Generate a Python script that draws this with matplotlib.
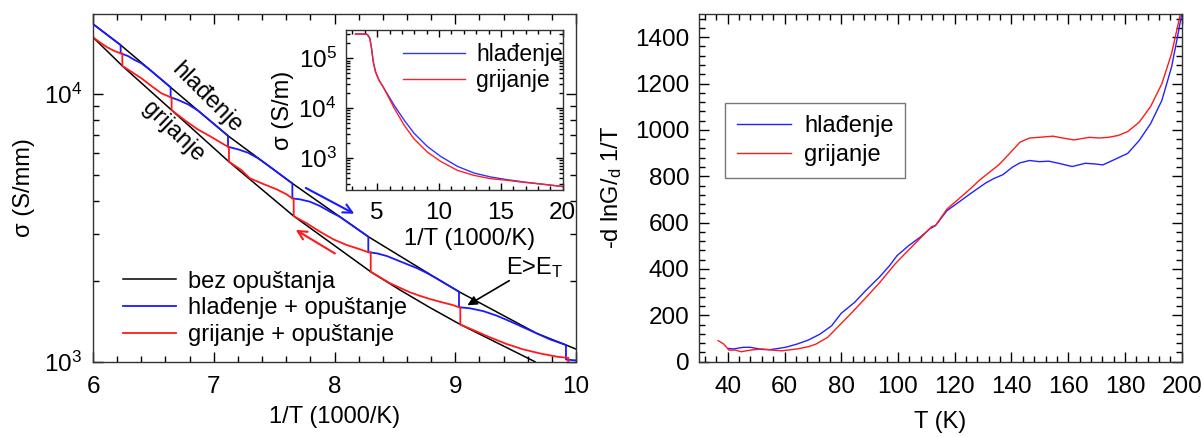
import numpy as np
import matplotlib
matplotlib.use('Agg')
import matplotlib.pyplot as plt
from matplotlib.ticker import MultipleLocator, LogLocator, NullFormatter

plt.rcParams['font.family'] = ['Liberation Sans', 'DejaVu Sans']
plt.rcParams['mathtext.fontset'] = 'custom'
plt.rcParams['mathtext.rm'] = 'Liberation Sans'
plt.rcParams['mathtext.it'] = 'Liberation Sans:italic'
plt.rcParams['mathtext.bf'] = 'Liberation Sans:bold'

# ---------------- left panel data (1/T in 1000/K, log10 sigma in S/mm) -------------
upper_x = [6.0, 6.229, 6.470, 6.643, 6.870, 7.118, 7.449, 7.651, 8.046, 8.280, 8.846,
           9.031, 9.674, 9.917, 10.0]
upper_log = [4.2615, 4.183, 4.091, 4.025, 3.938, 3.844, 3.7335, 3.666, 3.541, 3.467, 3.311,
             3.2615, 3.106, 3.0624, 3.047]

lower_x = [6.0, 6.243, 6.651, 7.126, 7.300, 7.662, 8.300, 8.542, 8.791, 9.042, 9.66]
lower_log = [4.212, 4.105, 3.940, 3.747, 3.681, 3.544, 3.336, 3.268, 3.202, 3.139, 3.0]

cool_relax_x = [6.0, 6.229, 6.229, 6.290, 6.345, 6.401, 6.470, 6.643, 6.643, 6.704, 6.787,
                6.870, 7.118, 7.118, 7.201, 7.284, 7.367, 7.449, 7.651, 7.651, 7.714, 7.797,
                7.880, 7.963, 8.046, 8.280, 8.280, 8.349, 8.432, 8.515, 8.597, 8.680, 8.763,
                8.846, 9.031, 9.031, 9.122, 9.232, 9.343, 9.453, 9.563, 9.674, 9.784, 9.917,
                9.917, 10.0]
cool_relax_log = [4.2615, 4.183, 4.152, 4.142, 4.127, 4.115, 4.091, 4.025, 3.988, 3.978, 3.9615,
                  3.938, 3.844, 3.803, 3.7934, 3.7807, 3.760, 3.7335, 3.666, 3.610, 3.6066, 3.5977,
                  3.5816, 3.5603, 3.541, 3.467, 3.409, 3.405, 3.395, 3.380, 3.365, 3.350, 3.332,
                  3.311, 3.2615, 3.2035, 3.1995, 3.189, 3.172, 3.151, 3.1285, 3.106, 3.0835, 3.0624,
                  3.008, 3.005]

heat_relax_x = [6.0, 6.069, 6.124, 6.179, 6.229, 6.243, 6.243, 6.318, 6.401, 6.484, 6.567,
                6.643, 6.651, 6.651, 6.757, 6.867, 6.977, 7.060, 7.118, 7.126, 7.126, 7.229,
                7.300, 7.410, 7.521, 7.604, 7.651, 7.662, 7.662, 7.770, 7.880, 7.991, 8.101,
                8.211, 8.280, 8.300, 8.300, 8.460, 8.542, 8.626, 8.708, 8.791, 8.873, 8.984,
                9.031, 9.042, 9.042, 9.150, 9.288, 9.426, 9.563, 9.701, 9.839, 9.917, 9.936,
                9.936, 10.0]
heat_relax_log = [4.212, 4.189, 4.173, 4.1606, 4.152, 4.152, 4.105, 4.0833, 4.0587, 4.030, 4.0026,
                  3.988, 3.988, 3.940, 3.903, 3.868, 3.8405, 3.818, 3.803, 3.803, 3.747, 3.716,
                  3.685, 3.664, 3.644, 3.625, 3.610, 3.610, 3.544, 3.517, 3.4856, 3.457, 3.436,
                  3.420, 3.409, 3.409, 3.336, 3.293, 3.276, 3.259, 3.246, 3.234, 3.224, 3.211,
                  3.2035, 3.2035, 3.139, 3.118, 3.091, 3.066, 3.046, 3.031, 3.019, 3.015, 3.015,
                  2.99, 2.99]

legend_main = ['bez opuštanja', 'hlađenje + opuštanje', 'grijanje + opuštanje']

# ---------------- inset data (1/T, log10 sigma in S/m) ----------------
inset_x = [3.24, 4.13, 4.25, 4.40, 4.54, 4.68, 4.86, 5.13, 5.54, 6.35, 7.16, 7.97, 9.05,
           10.13, 11.49, 12.83, 14.19, 15.54, 16.89, 18.24, 20.0]
inset_cool_log = [5.486, 5.486, 5.46, 5.40, 5.20, 4.93, 4.73, 4.566, 4.40, 4.066, 3.766, 3.50,
                  3.233, 3.033, 2.833, 2.70, 2.62, 2.566, 2.52, 2.48, 2.43]
inset_heat_log = [5.486, 5.486, 5.46, 5.40, 5.20, 4.93, 4.73, 4.566, 4.40, 4.01, 3.666, 3.386,
                  3.12, 2.933, 2.753, 2.653, 2.586, 2.553, 2.513, 2.48, 2.43]

# ---------------- right panel data (T in K, -dlnG/d(1/T)) ----------------
cool_T = [40.3, 42, 45.4, 48, 52, 55, 60.3, 64.4, 68.5, 72.5, 76.6, 80, 84.7, 88.8, 93.6, 97,
          99.7, 103.7, 107.8, 111.2, 113.2, 117.3, 121.4, 125.4, 130.8, 133.6, 137, 140.3, 143,
          146.4, 149.8, 153.2, 156.6, 161.4, 166, 169.5, 172.2, 175.6, 181, 185, 189, 193,
          196.4, 198.5, 200]
cool_E = [57, 55, 62, 62, 53, 52, 62, 76, 94, 119, 155, 209, 256, 309, 367, 414, 458, 500,
          537, 573, 587, 652, 688, 724, 770, 789, 807, 839, 858, 868, 863, 865, 856, 842, 856,
          853, 849, 868, 899, 954, 1026, 1127, 1270, 1400, 1500]
heat_T = [36.6, 38.6, 40.4, 42.7, 44.7, 48, 52, 55.6, 59, 64.4, 68.5, 71.1, 75.2, 79.2, 83.3,
          88.8, 93.6, 99, 102.4, 107.8, 111.9, 113.2, 117.3, 121.4, 125.4, 128.8, 132.2, 135.6,
          139, 143, 146.4, 149.8, 154.6, 158, 162, 167.5, 170.9, 174.2, 177.6, 181, 185, 189,
          193, 196.4, 198.5, 199.5]
heat_E = [91, 76, 50, 50, 43, 50, 55, 50, 47, 55, 65, 76, 105, 155, 206, 278, 342, 422, 465,
          532, 583, 587, 659, 702, 745, 784, 817, 850, 894, 947, 965, 968, 973, 965, 957, 968,
          965, 968, 976, 993, 1033, 1100, 1199, 1328, 1443, 1500]
legend_right = ['hlađenje', 'grijanje']

FS = 17          # labels / legends
FT = 17.5        # tick labels
FSI = 16.5       # inset legend
W, H = 1204, 437

fig = plt.figure(figsize=(W / 100, H / 100), dpi=100)


def frac(x0, y0, x1, y1):
    return [x0 / W, 1 - y1 / H, (x1 - x0) / W, (y1 - y0) / H]


def style(ax, fs):
    ax.tick_params(which='both', direction='in', top=True, right=True, labelsize=fs,
                   width=1.0, colors='black')
    ax.tick_params(which='major', length=7)
    ax.tick_params(which='minor', length=4)
    for s in ax.spines.values():
        s.set_linewidth(1.0)
        s.set_color('#333333')


# ---------------- left panel ----------------
ax1 = fig.add_axes(frac(93, 14, 576, 361.7))
p = lambda v: np.power(10.0, np.asarray(v))
ax1.plot(upper_x, p(upper_log), color='black', lw=1.1, label=legend_main[0])
ax1.plot(lower_x, p(lower_log), color='black', lw=1.1)
ax1.plot(cool_relax_x, p(cool_relax_log), color='#1a1aff', lw=1.3, label=legend_main[1])
ax1.plot(heat_relax_x, p(heat_relax_log), color='#ff1a1a', lw=1.3, label=legend_main[2])
ax1.set_yscale('log')
ax1.set_xlim(6, 10)
ax1.set_ylim(1e3, 10 ** 4.299)
ax1.xaxis.set_major_locator(MultipleLocator(1))
ax1.xaxis.set_minor_locator(MultipleLocator(0.2))
ax1.yaxis.set_major_locator(LogLocator(base=10))
ax1.yaxis.set_minor_locator(LogLocator(base=10, subs=np.arange(2, 10)))
ax1.yaxis.set_minor_formatter(NullFormatter())
style(ax1, FT)
ax1.tick_params(axis='x', pad=10)
ax1.tick_params(axis='y', pad=8)
ax1.set_xlabel('1/T (1000/K)', fontsize=FS, labelpad=6)
ax1.set_ylabel('σ (S/mm)', fontsize=FS, labelpad=6)

ax1.text(6.944, 10 ** 3.985, 'hlađenje', rotation=-45, fontsize=FS, ha='center',
         va='center', rotation_mode='anchor')
ax1.text(6.663, 10 ** 3.859, 'grijanje', rotation=-44, fontsize=FS, ha='center',
         va='center', rotation_mode='anchor')

ax1.annotate('', xy=(8.184, 10 ** 3.548), xytext=(7.742, 10 ** 3.654),
             arrowprops=dict(arrowstyle='->', color='#1a1aff', lw=1.5, mutation_scale=16))
ax1.annotate('', xy=(7.659, 10 ** 3.498), xytext=(8.023, 10 ** 3.399),
             arrowprops=dict(arrowstyle='->', color='#ff1a1a', lw=1.5, mutation_scale=16))
ax1.annotate('', xy=(9.081, 10 ** 3.2055), xytext=(9.467, 10 ** 3.308),
             arrowprops=dict(arrowstyle='-|>', color='black', lw=1.2, mutation_scale=14))
ax1.text(9.66, 10 ** 3.35, 'E>E$_\\mathregular{T}$', fontsize=FS, ha='center', va='center')

leg1 = ax1.legend(loc='upper left', bbox_to_anchor=(0.062, 0.262), frameon=False,
                  fontsize=FS, handlelength=2.25, handletextpad=0.5, labelspacing=0.2,
                  borderpad=0, borderaxespad=0)

# ---------------- inset ----------------
axi = fig.add_axes(frac(346.3, 30, 562.7, 190))
axi.set_facecolor('white')
axi.plot(inset_x, p(inset_cool_log), color='#3333ff', lw=1.0, label=legend_right[0])
axi.plot(inset_x, p(inset_heat_log), color='#ff2222', lw=1.0, label=legend_right[1])
axi.set_yscale('log')
axi.set_xlim(2.5, 20)
axi.set_ylim(10 ** 2.36, 10 ** 5.566)
axi.xaxis.set_major_locator(MultipleLocator(5))
axi.xaxis.set_minor_locator(MultipleLocator(1))
axi.yaxis.set_major_locator(LogLocator(base=10))
axi.yaxis.set_minor_locator(LogLocator(base=10, subs=np.arange(2, 10)))
axi.yaxis.set_minor_formatter(NullFormatter())
style(axi, FT)
axi.tick_params(which='major', length=5)
axi.tick_params(which='minor', length=3)
axi.tick_params(axis='x', pad=9)
axi.tick_params(axis='y', pad=7)
axi.set_xlabel('1/T (1000/K)', fontsize=FS)
axi.xaxis.set_label_coords(0.57, -0.235)
axi.set_ylabel('σ (S/m)', fontsize=FS, labelpad=3)
axi.legend(loc='upper left', bbox_to_anchor=(0.262, 0.92), frameon=False, fontsize=FSI,
           handlelength=2.7, handletextpad=0.5, labelspacing=0.15, borderpad=0,
           borderaxespad=0)

# ---------------- right panel ----------------
ax2 = fig.add_axes(frac(699.4, 14, 1181.7, 361.7))
ax2.plot(cool_T, cool_E, color='#2222ff', lw=1.0, label=legend_right[0])
ax2.plot(heat_T, heat_E, color='#ff1a1a', lw=1.0, label=legend_right[1])
ax2.set_xlim(30, 200)
ax2.set_ylim(0, 1500)
ax2.xaxis.set_major_locator(MultipleLocator(20))
ax2.xaxis.set_minor_locator(MultipleLocator(4))
ax2.yaxis.set_major_locator(MultipleLocator(200))
ax2.yaxis.set_minor_locator(MultipleLocator(40))
style(ax2, FT)
ax2.tick_params(axis='x', pad=10)
ax2.tick_params(axis='y', pad=7)
ax2.set_xlabel('T (K)', fontsize=FS, labelpad=10)
ax2.set_ylabel('-d lnG$\\mathregular{/_{d}}$ 1/T', fontsize=FS, labelpad=8)
leg2 = ax2.legend(loc='upper left', bbox_to_anchor=(0.053, 0.744), frameon=True,
                  fancybox=False, fontsize=FS, handlelength=2.3, handletextpad=0.55,
                  labelspacing=0.3, borderpad=0.5, borderaxespad=0)
leg2.get_frame().set_edgecolor('#555555')
leg2.get_frame().set_linewidth(1.0)

fig.savefig('out.png', dpi=100)
